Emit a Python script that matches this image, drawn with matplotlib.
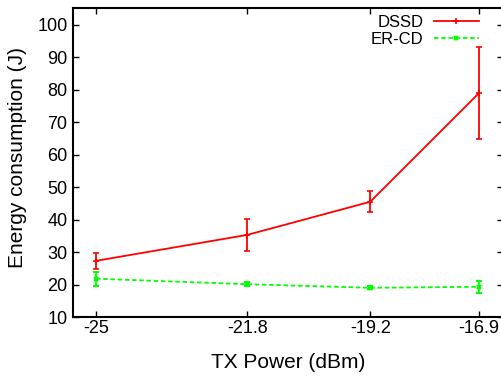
import numpy as np
import matplotlib.pyplot as plt
from matplotlib.lines import Line2D

plt.rcParams['font.family'] = ['Liberation Sans', 'DejaVu Sans']

# data
tx_power = [-25, -21.8, -19.2, -16.9]
dssd = [27.3, 35.3, 45.5, 79.0]
dssd_err = [2.4, 5.0, 3.3, 14.3]
ercd = [21.8, 20.1, 19.0, 19.3]
ercd_err = [2.1, 0.6, 0.4, 1.9]

fig = plt.figure(figsize=(5.01, 3.79), dpi=100)
# right spine falls just outside the picture, as in the reference
ax = fig.add_axes([73 / 501, 62 / 379, 429.5 / 501, 309 / 379])

ax.errorbar(tx_power, dssd, yerr=dssd_err, color='#ff0000', lw=1.3,
            marker='+', ms=4, mew=1.2, capsize=2.2, elinewidth=1.3, capthick=1.3)
ax.errorbar(tx_power, ercd, yerr=ercd_err, color='#00ff00', lw=1.3, ls=(0, (2.5, 1.5)),
            marker='x', ms=3.5, mew=1.5, capsize=2.2, elinewidth=1.3, capthick=1.3)

ax.set_xlim(-25.486, -16.403)
ax.set_ylim(10, 105.2)
ax.set_xticks(tx_power)
ax.set_xticklabels(['-25', '-21.8', '-19.2', '-16.9'])
ax.set_yticks(range(10, 101, 10))

ax.tick_params(direction='in', top=True, right=True, length=4, width=1, labelsize=13)
ax.tick_params(axis='x', pad=2)
ax.tick_params(axis='y', pad=4)
for s in ax.spines.values():
    s.set_linewidth(1.5)

ax.set_xlabel('TX Power (dBm)', fontsize=15, labelpad=11.5)
ax.set_ylabel('Energy consumption (J)', fontsize=15)
ax.yaxis.set_label_coords(-0.108, 0.515)

handles = [Line2D([], [], color='#ff0000', lw=1.3, marker='+', ms=4, mew=1.2),
           Line2D([], [], color='#00ff00', lw=1.3, ls=(0, (2.5, 1.5)), marker='x', ms=3.5, mew=1.5)]
ax.legend(handles, ['DSSD', 'ER-CD'], loc='upper right', frameon=False, markerfirst=False,
          fontsize=12, handlelength=2.7, handletextpad=0.6, labelspacing=0.12,
          borderaxespad=0.0, borderpad=0.42, bbox_to_anchor=(1 - 17 / 429.5, 1.0))

fig.savefig('out.png', dpi=100)
